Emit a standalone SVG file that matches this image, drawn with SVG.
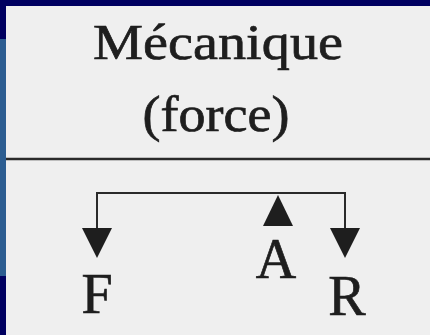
<svg xmlns="http://www.w3.org/2000/svg" width="430" height="335" viewBox="0 0 430 335">
<style>
.t{font-family:"Liberation Serif","Times New Roman",serif;fill:#1e1e1e;stroke:#1e1e1e;stroke-width:0.7}
.ln{stroke:#2a2a2a;fill:none}
.ah{fill:#1e1e1e}
</style>
<rect x="0" y="0" width="430" height="335" fill="#000060"/>
<rect x="0" y="39" width="6" height="237" fill="#2c5d91"/>
<rect x="6" y="6" width="424" height="329" fill="#efefef"/>
<g id="title">
<text class="t" x="218" y="59" font-size="51" text-anchor="middle" textLength="250" lengthAdjust="spacingAndGlyphs">Mécanique</text>
<text class="t" x="216" y="131" font-size="51" text-anchor="middle" textLength="147" lengthAdjust="spacingAndGlyphs">(force)</text>
</g>
<g id="rule"><line class="ln" x1="6" y1="159" x2="430" y2="159" stroke-width="2.5"/></g>
<g id="connectors">
<polyline class="ln" stroke-width="2" points="97,229 97,193 345,193 345,229"/>
<polygon class="ah" points="82,228 112,228 97,258"/>
<polygon class="ah" points="330,228 360,228 345,258"/>
<polygon class="ah" points="278,195 263,226 293,226"/>
</g>
<g id="F"><text class="t" x="97" y="313" font-size="56" text-anchor="middle">F</text></g>
<g id="A"><text class="t" x="276" y="278" font-size="56" text-anchor="middle">A</text></g>
<g id="R"><text class="t" x="347" y="315" font-size="56" text-anchor="middle">R</text></g>
</svg>
